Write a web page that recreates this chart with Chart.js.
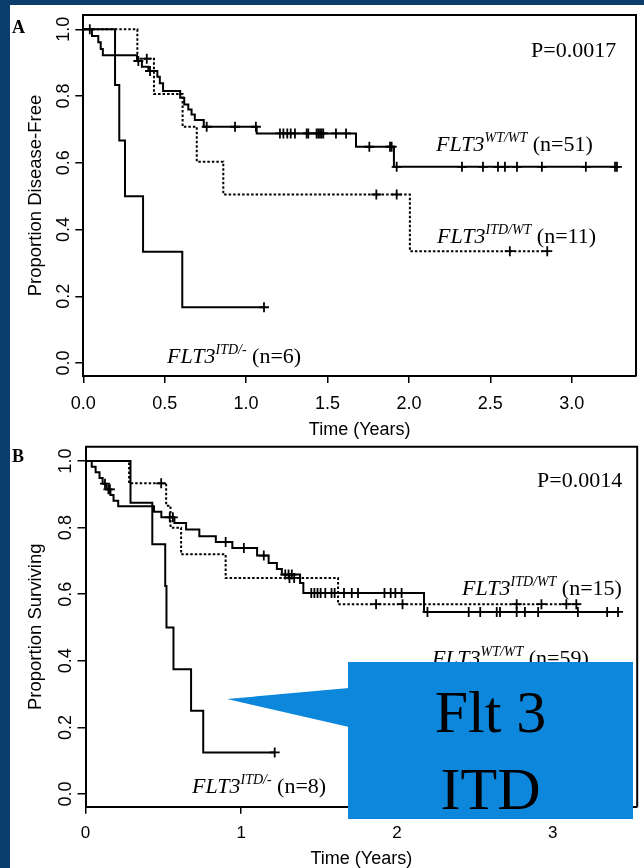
<!DOCTYPE html>
<html><head><meta charset="utf-8">
<script src="https://cdn.jsdelivr.net/npm/chart.js@4.4.1/dist/chart.umd.min.js"></script>
<style>
html,body{margin:0;padding:0;}
body{width:644px;height:868px;background:#0b3d6c;position:relative;overflow:hidden;}
#paper{position:absolute;left:10px;top:5px;width:634px;height:863px;background:#fff;}
canvas{position:absolute;left:0;}
#cA{top:0;} #cB{top:440px;}
#ptr{position:absolute;left:0;top:0;}
#callout{position:absolute;left:348px;top:662px;width:285px;height:157px;background:#0d87dc;color:#000;
 font-family:"Liberation Serif","Times New Roman",serif;font-size:60px;line-height:77px;text-align:center;
 padding-top:12px;box-sizing:border-box;}
</style></head><body>
<div id="paper"></div>
<canvas id="cA" width="644" height="440"></canvas>
<canvas id="cB" width="644" height="428"></canvas>
<svg id="ptr" width="644" height="868"><polygon points="227,699 349,688 349,727" fill="#0d87dc"/></svg>
<div id="callout">Flt 3<br>ITD</div>
<script>
// ---------- Panel A: disease-free survival ----------
const aWtTimes = [0, 0.053, 0.092, 0.107, 0.12, 0.33, 0.36, 0.40, 0.455, 0.47, 0.49, 0.595, 0.62, 0.645, 0.665, 0.685, 0.74, 1.065, 1.675, 1.908, 3.278];
const aWtSurv  = [1, 0.980, 0.961, 0.941, 0.922, 0.905, 0.888, 0.875, 0.858, 0.838, 0.815, 0.795, 0.775, 0.760, 0.745, 0.728, 0.708, 0.688, 0.648, 0.588, 0.588];
const aWtCens  = [0.04, 0.338, 0.41, 0.758, 0.932, 1.06, 1.208, 1.229, 1.253, 1.274, 1.30, 1.372, 1.382, 1.433, 1.443, 1.454, 1.464, 1.474, 1.552, 1.614, 1.757, 1.884, 1.894, 1.925, 2.326, 2.455, 2.547, 2.59, 2.664, 2.817, 3.087, 3.266, 3.278];

const aItdWtTimes = [0, 0.332, 0.434, 0.61, 0.697, 0.86, 2.006, 2.86];
const aItdWtSurv  = [1, 0.912, 0.806, 0.708, 0.603, 0.505, 0.335, 0.335];
const aItdWtCens  = [0.39, 1.80, 1.925, 2.62, 2.85];

const aItdNullTimes = [0, 0.195, 0.221, 0.256, 0.367, 0.608, 1.11];
const aItdNullSurv  = [1, 0.833, 0.667, 0.5, 0.333, 0.167, 0.167];
const aItdNullCens  = [1.11];

const aTicksX = [0, 0.5, 1, 1.5, 2, 2.5, 3];
const aTicksY = [0, 0.2, 0.4, 0.6, 0.8, 1];

// ---------- Panel B: overall survival ----------
const bWtTimes = [0, 0.04, 0.065, 0.09, 0.11, 0.135, 0.16, 0.18, 0.21, 0.44, 0.487, 0.571, 0.646, 0.731, 0.837, 0.943, 1.102, 1.176, 1.229, 1.261, 1.378, 1.399, 2.174, 3.43];
const bWtSurv  = [1, 0.983, 0.966, 0.949, 0.932, 0.915, 0.898, 0.881, 0.864, 0.848, 0.831, 0.814, 0.794, 0.774, 0.757, 0.739, 0.716, 0.694, 0.676, 0.659, 0.634, 0.604, 0.547, 0.547];
const bWtCens  = [0.125, 0.147, 0.157, 0.541, 0.561, 0.90, 1.017, 1.145, 1.283, 1.304, 1.325, 1.45, 1.47, 1.49, 1.51, 1.54, 1.58, 1.60, 1.66, 1.71, 1.75, 1.92, 1.96, 1.99, 2.03, 2.196, 2.461, 2.535, 2.641, 2.662, 2.769, 2.822, 2.907, 3.162, 3.35, 3.42];

const bItdWtTimes = [0, 0.28, 0.518, 0.546, 0.614, 0.90, 1.622, 3.172];
const bItdWtSurv  = [1, 0.933, 0.866, 0.80, 0.72, 0.649, 0.570, 0.570];
const bItdWtCens  = [0.486, 1.31, 1.34, 1.866, 2.036, 2.769, 2.928, 3.088, 3.152];

const bItdNullTimes = [0, 0.289, 0.429, 0.512, 0.52, 0.565, 0.678, 0.756, 1.215];
const bItdNullSurv  = [1, 0.875, 0.75, 0.625, 0.5, 0.375, 0.25, 0.125, 0.125];
const bItdNullCens  = [1.215];

const bTicksX = [0, 1, 2, 3];
const bTicksY = [0, 0.2, 0.4, 0.6, 0.8, 1];

// ---------- helpers ----------
Chart.defaults.font.family = '"Liberation Sans", Arial, sans-serif';
Chart.defaults.color = '#000';

function survAt(times, surv, t) {
  let s = surv[0];
  for (let i = 0; i < times.length; i++) if (times[i] <= t + 1e-9) s = surv[i];
  return s;
}
function curveSets(times, surv, cens, dashed) {
  return [
    { data: times.map((t, i) => ({ x: t, y: surv[i] })), stepped: true, borderColor: '#000', borderWidth: 2,
      borderDash: dashed ? [2.5, 2] : [], pointRadius: 0, pointHoverRadius: 0, fill: false },
    { data: cens.map(t => ({ x: t, y: survAt(times, surv, t) })), showLine: false, pointStyle: 'cross',
      pointRadius: 5, pointHoverRadius: 5, pointBorderWidth: 1.8, pointBorderColor: '#000', pointBackgroundColor: '#000', borderColor: '#000' }
  ];
}

const framePlugin = {
  id: 'frame',
  afterDraw(chart) {
    const { ctx, chartArea: a } = chart;
    ctx.save(); ctx.strokeStyle = '#000'; ctx.lineWidth = 2;
    ctx.beginPath(); ctx.moveTo(a.left, a.top); ctx.lineTo(a.right, a.top); ctx.lineTo(a.right, a.bottom); ctx.stroke();
    ctx.restore();
  }
};
const notesPlugin = {
  id: 'notes',
  afterDraw(chart, args, opts) {
    const ctx = chart.ctx;
    ctx.save();
    ctx.fillStyle = '#000'; ctx.textBaseline = 'alphabetic'; ctx.textAlign = 'left';
    (opts.items || []).forEach(it => {
      let x = it.x;
      it.parts.forEach(p => {
        const size = p.sup ? 14 : (p.size || 22);
        ctx.font = (p.b ? 'bold ' : '') + (p.i ? 'italic ' : '') + size + 'px "Liberation Serif", "Times New Roman", serif';
        ctx.fillText(p.t, x, it.y - (p.sup ? 9 : 0));
        x += ctx.measureText(p.t).width;
      });
    });
    ctx.restore();
  }
};

function makeChart(id, cfg) {
  const sets = [].concat(
    curveSets(cfg.c1[0], cfg.c1[1], cfg.c1[2], false),
    curveSets(cfg.c2[0], cfg.c2[1], cfg.c2[2], true),
    curveSets(cfg.c3[0], cfg.c3[1], cfg.c3[2], false)
  );
  return new Chart(document.getElementById(id), {
    type: 'line',
    data: { datasets: sets },
    plugins: [framePlugin, notesPlugin],
    options: {
      responsive: false, animation: false, devicePixelRatio: 1,
      layout: { padding: cfg.pad },
      plugins: { legend: { display: false }, tooltip: { enabled: false }, notes: { items: cfg.notes } },
      scales: {
        x: {
          type: 'linear', min: cfg.xMin, max: cfg.xMax,
          afterBuildTicks(s) { s.ticks = cfg.ticksX.map(v => ({ value: v })); },
          afterFit(s) { s.height = cfg.xH; s.paddingLeft = 0; s.paddingRight = 0; },
          ticks: { callback: cfg.fmtX, font: { size: cfg.xTickSize }, color: '#000', padding: cfg.xTickPad, maxRotation: 0, autoSkip: false },
          grid: { drawOnChartArea: false, drawTicks: true, tickLength: 7, color: '#000', lineWidth: 1.5 },
          border: { display: true, color: '#000', width: 2 },
          title: { display: true, text: 'Time (Years)', font: { size: 18, lineHeight: 1 }, color: '#000', padding: { top: 0, bottom: cfg.xTitlePad } }
        },
        y: {
          type: 'linear', min: cfg.yMin, max: cfg.yMax,
          afterBuildTicks(s) { s.ticks = cfg.ticksY.map(v => ({ value: v })); },
          afterFit(s) { s.width = cfg.yW; s.paddingTop = 0; s.paddingBottom = 0; },
          ticks: { callback: v => v.toFixed(1), minRotation: 90, maxRotation: 90, crossAlign: 'center', padding: -1, autoSkip: false, font: { size: 18 }, color: '#000' },
          grid: { drawOnChartArea: false, drawTicks: true, tickLength: 8, color: '#000', lineWidth: 1.5 },
          border: { display: true, color: '#000', width: 2 },
          title: { display: true, text: cfg.yTitle, font: { size: 18.5, lineHeight: 1 }, color: '#000', padding: { top: 27, bottom: 0 } }
        }
      }
    }
  });
}

makeChart('cA', {
  c1: [aWtTimes, aWtSurv, aWtCens], c2: [aItdWtTimes, aItdWtSurv, aItdWtCens], c3: [aItdNullTimes, aItdNullSurv, aItdNullCens],
  pad: { left: 0, top: 15, right: 8, bottom: 0 },
  xMin: 0, xMax: 3.395, yMin: -0.039, yMax: 1.0429, xH: 64, yW: 83.3,
  ticksX: aTicksX, ticksY: aTicksY, fmtX: v => v.toFixed(1), xTickSize: 18, xTickPad: 10, xTitlePad: 1,
  yTitle: 'Proportion Disease-Free',
  notes: [
    { x: 12, y: 33, parts: [{ t: 'A', b: 1, size: 18 }] },
    { x: 531, y: 57, parts: [{ t: 'P=0.0017' }] },
    { x: 436, y: 151, parts: [{ t: 'FLT3', i: 1 }, { t: 'WT/WT', i: 1, sup: 1 }, { t: ' (n=51)' }] },
    { x: 437, y: 243, parts: [{ t: 'FLT3', i: 1 }, { t: 'ITD/WT', i: 1, sup: 1 }, { t: ' (n=11)' }] },
    { x: 167, y: 363, parts: [{ t: 'FLT3', i: 1 }, { t: 'ITD/-', i: 1, sup: 1 }, { t: ' (n=6)' }] }
  ]
});

makeChart('cB', {
  c1: [bWtTimes, bWtSurv, bWtCens], c2: [bItdWtTimes, bItdWtSurv, bItdWtCens], c3: [bItdNullTimes, bItdNullSurv, bItdNullCens],
  pad: { left: 0, top: 5, right: 2.3, bottom: 0 },
  xMin: 0, xMax: 3.543, yMin: -0.038, yMax: 1.0427, xH: 61.3, yW: 85.5,
  ticksX: bTicksX, ticksY: bTicksY, fmtX: v => String(v), xTickSize: 17, xTickPad: 9, xTitlePad: 0,
  yTitle: 'Proportion Surviving',
  notes: [
    { x: 12, y: 22, parts: [{ t: 'B', b: 1, size: 18 }] },
    { x: 537, y: 47, parts: [{ t: 'P=0.0014' }] },
    { x: 462, y: 155, parts: [{ t: 'FLT3', i: 1 }, { t: 'ITD/WT', i: 1, sup: 1 }, { t: ' (n=15)' }] },
    { x: 432, y: 225, parts: [{ t: 'FLT3', i: 1 }, { t: 'WT/WT', i: 1, sup: 1 }, { t: ' (n=59)' }] },
    { x: 192, y: 353, parts: [{ t: 'FLT3', i: 1 }, { t: 'ITD/-', i: 1, sup: 1 }, { t: ' (n=8)' }] }
  ]
});
</script>
</body></html>
